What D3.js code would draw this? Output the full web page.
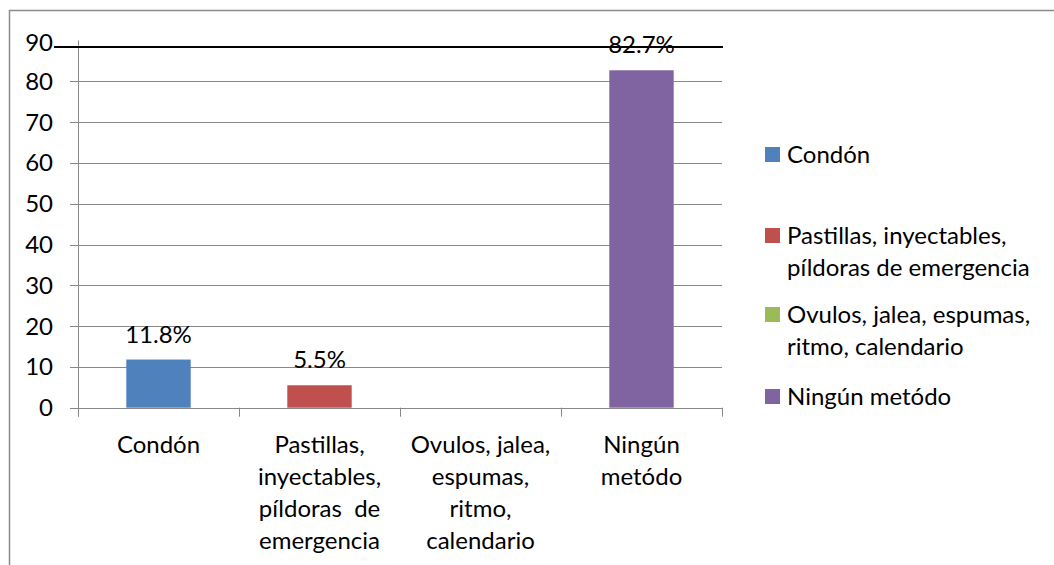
<!DOCTYPE html>
<html lang="es">
<head>
<meta charset="UTF-8">
<title>Métodos anticonceptivos</title>
<script src="https://d3js.org/d3.v7.min.js"></script>
<style>
    body { margin: 0; background: #fff; }
    svg text { font-family: Lato, "Open Sans", sans-serif; fill: #000; }
</style>
</head>
<body>
<div id="chart"></div>
<script>
    // data
    const categories = ["Condón", "Pastillas, inyectables, píldoras de emergencia",
        "Ovulos, jalea, espumas, ritmo, calendario", "Ningún metódo"];
    const values = [11.8, 5.5, 0, 82.7];
    const colors = ["#4F81BD", "#C0504D", "#9BBB59", "#8064A2"];
    const yTicks = [0, 10, 20, 30, 40, 50, 60, 70, 80, 90];
    // category labels as they wrap under the axis
    const xLabelLines = [
        ["Condón"],
        ["Pastillas,", "inyectables,", "píldoras  de", "emergencia"],
        ["Ovulos, jalea,", "espumas,", "ritmo,", "calendario"],
        ["Ningún", "metódo"]
    ];
    const legendLines = [
        ["Condón"],
        ["Pastillas, inyectables,", "píldoras de emergencia"],
        ["Ovulos, jalea, espumas,", "ritmo, calendario"],
        ["Ningún metódo"]
    ];

    const W = 1054, H = 565;
    const plot = { left: 78, right: 722, top: 40.5, bottom: 407.7 };
    const fs = "24px";

    const svg = d3.select("#chart").append("svg")
        .attr("width", W).attr("height", H);

    // outer frame (runs off the right and bottom edges)
    svg.append("rect")
        .attr("x", 9.5).attr("y", 10.5)
        .attr("width", W + 20).attr("height", H + 20)
        .attr("fill", "none").attr("stroke", "#8c8c8c").attr("stroke-width", 1.5);

    const x = d3.scaleBand()
        .domain(categories)
        .range([plot.left, plot.right])
        .paddingInner(0.6)
        .paddingOuter(0.3);

    const y = d3.scaleLinear()
        .domain([0, 90])
        .range([plot.bottom, plot.top]);

    // gridlines + y ticks (the top one is drawn as the black line below)
    svg.append("g")
        .selectAll("line")
        .data(yTicks.filter(d => d < 90))
        .join("line")
        .attr("x1", plot.left - 8).attr("x2", plot.right)
        .attr("y1", d => Math.round(y(d)) + 0.5).attr("y2", d => Math.round(y(d)) + 0.5)
        .attr("stroke", "#888").attr("stroke-width", 1);

    svg.append("g")
        .selectAll("text")
        .data(yTicks)
        .join("text")
        .attr("x", plot.left - 25)
        .attr("y", d => d === 90 ? y(d) + 2 : y(d))
        .attr("dy", "0.35em")
        .attr("text-anchor", "end")
        .style("font-size", fs)
        .text(d => d);

    // y axis line
    svg.append("line")
        .attr("x1", plot.left + 0.5).attr("x2", plot.left + 0.5)
        .attr("y1", y(90)).attr("y2", plot.bottom + 9)
        .attr("stroke", "#888");

    // x ticks at band boundaries
    const step = x.step();
    svg.append("g")
        .selectAll("line")
        .data(d3.range(categories.length + 1))
        .join("line")
        .attr("x1", i => Math.round(plot.left + i * step) + 0.5)
        .attr("x2", i => Math.round(plot.left + i * step) + 0.5)
        .attr("y1", plot.bottom).attr("y2", plot.bottom + 9)
        .attr("stroke", "#888");

    // bars
    svg.append("g")
        .selectAll("rect")
        .data(values)
        .join("rect")
        .attr("x", (d, i) => x(categories[i]))
        .attr("width", x.bandwidth())
        .attr("y", d => y(d))
        .attr("height", d => y(0) - y(d))
        .attr("fill", (d, i) => colors[i]);

    // black line across the top
    svg.append("line")
        .attr("x1", 54).attr("x2", 723)
        .attr("y1", y(90) + 6.5).attr("y2", y(90) + 6.5)
        .attr("stroke", "#000").attr("stroke-width", 2);

    // value labels
    svg.append("g")
        .selectAll("text")
        .data(values.map((v, i) => ({ v, c: categories[i] })).filter(d => d.v > 0))
        .join("text")
        .attr("x", d => x(d.c) + x.bandwidth() / 2)
        .attr("y", d => y(d.v) - 17)
        .attr("text-anchor", "middle")
        .style("font-size", fs)
        .text(d => d.v.toFixed(1) + "%");

    // category labels
    const xl = svg.append("g")
        .selectAll("text")
        .data(categories)
        .join("text")
        .attr("x", d => x(d) + x.bandwidth() / 2)
        .attr("y", 453)
        .attr("text-anchor", "middle")
        .style("font-size", fs)
        .style("white-space", "pre");
    xl.selectAll("tspan")
        .data((d, i) => xLabelLines[i])
        .join("tspan")
        .attr("x", function () { return this.parentNode.getAttribute("x"); })
        .attr("dy", (d, j) => j === 0 ? 0 : 32)
        .text(d => d);

    // legend
    const legendY = [154.5, 235.5, 314.5, 396.5];
    const lg = svg.append("g")
        .selectAll("g")
        .data(categories)
        .join("g")
        .attr("transform", (d, i) => `translate(765,${legendY[i]})`);
    lg.append("rect")
        .attr("x", 0).attr("y", -7.5)
        .attr("width", 15).attr("height", 15)
        .attr("fill", (d, i) => colors[i]);
    lg.append("text")
        .attr("x", 22).attr("y", 0)
        .style("font-size", fs)
        .selectAll("tspan")
        .data((d, i) => legendLines[i])
        .join("tspan")
        .attr("x", 22)
        .attr("dy", (d, j) => j === 0 ? "0.35em" : 32)
        .text(d => d);
</script>
</body>
</html>
